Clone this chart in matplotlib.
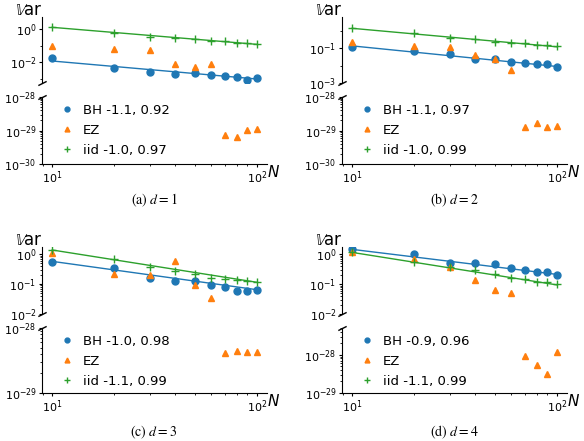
import matplotlib
matplotlib.use('Agg')
import matplotlib.pyplot as plt
from matplotlib.ticker import FixedLocator, LogLocator, NullFormatter


# ----------------------------------------------------------------------------------------
#                             DATA AREA

N        = [10, 20, 30, 40, 50, 60, 70, 80, 90, 100]
N_FIT    = [10, 100]
N_EZ_TOP = [10, 20, 30, 40, 50, 60]
N_EZ_BOT = [70, 80, 90, 100]

# (a) d = 1
bh_a      = [1.74e-2, 4.4e-3, 2.8e-3, 1.9e-3, 2.2e-3, 1.7e-3, 1.6e-3, 1.4e-3, 8.7e-4, 1.1e-3]
iid_a     = [1.38, 0.60, 0.35, 0.30, 0.25, 0.19, 0.20, 0.15, 0.145, 0.13]
ez_top_a  = [0.10, 0.063, 0.055, 7.9e-3, 5.0e-3, 7.6e-3]
ez_bot_a  = [7.4e-30, 6.3e-30, 1.07e-29, 1.12e-29]
bh_fit_a  = [1.2e-2, 1.0e-3]
iid_fit_a = [1.26, 0.12]
labels_a  = ["BH -1.1, 0.92", "EZ", "iid -1.0, 0.97"]

# (b) d = 2
bh_b      = [0.11, 0.065, 0.046, 0.023, 0.023, 0.017, 0.015, 0.012, 0.012, 8.1e-3]
iid_b     = [1.38, 0.72, 0.41, 0.32, 0.24, 0.21, 0.19, 0.155, 0.155, 0.126]
ez_top_b  = [0.24, 0.126, 0.115, 0.042, 0.023, 5.8e-3]
ez_bot_b  = [1.23e-29, 1.7e-29, 1.26e-29, 1.38e-29]
bh_fit_b  = [0.135, 8.9e-3]
iid_fit_b = [1.38, 0.12]
labels_b  = ["BH -1.1, 0.97", "EZ", "iid -1.0, 0.99"]

# (c) d = 3
bh_c      = [0.54, 0.34, 0.166, 0.123, 0.123, 0.095, 0.083, 0.060, 0.060, 0.062]
iid_c     = [1.38, 0.68, 0.36, 0.275, 0.22, 0.166, 0.148, 0.135, 0.123, 0.115]
ez_top_c  = [1.07, 0.22, 0.20, 0.60, 0.095, 0.034]
ez_bot_c  = [4.1e-29, 4.5e-29, 4.3e-29, 4.3e-29]
bh_fit_c  = [0.575, 0.065]
iid_fit_c = [1.38, 0.115]
labels_c  = ["BH -1.0, 0.98", "EZ", "iid -1.1, 0.99"]

# (d) d = 4
bh_d      = [1.48, 1.0, 0.50, 0.50, 0.47, 0.36, 0.29, 0.25, 0.26, 0.204]
iid_d     = [1.17, 0.575, 0.39, 0.29, 0.22, 0.166, 0.151, 0.123, 0.123, 0.10]
ez_top_d  = [1.17, 0.69, 0.39, 0.138, 0.065, 0.050]
ez_bot_d  = [9.5e-29, 5.5e-29, 3.2e-29, 1.15e-28]
bh_fit_d  = [1.48, 0.214]
iid_fit_d = [1.17, 0.095]
labels_d  = ["BH -0.9, 0.96", "EZ", "iid -1.1, 0.99"]

captions = [r"(a) $d = 1$", r"(b) $d = 2$", r"(c) $d = 3$", r"(d) $d = 4$"]


# ----------------------------------------------------------------------------------------
#                             PLOTTING AREA

W, H = 584, 441

C_BH  = '#1f77b4'
C_EZ  = '#ff7f0e'
C_IID = '#2ca02c'


def px_rect(x0, y0, x1, y1):
    # pixel box (from top-left) -> figure fraction
    return [x0 / W, 1 - y1 / H, (x1 - x0) / W, (y1 - y0) / H]


def break_marks(ax_top, ax_bot):
    kw = dict(marker=[(-1, -0.5), (1, 0.5)], markersize=6, linestyle='none',
              color='k', mec='k', mew=1, clip_on=False)
    ax_top.plot([0], [0], transform=ax_top.transAxes, **kw)
    ax_bot.plot([0], [1], transform=ax_bot.transAxes, **kw)


def set_log_ticks(ax, majors, minors=None):
    ax.yaxis.set_major_locator(FixedLocator(majors))
    if minors is None:
        ax.yaxis.set_minor_locator(LogLocator(base=10, subs=range(2, 10), numticks=50))
    else:
        ax.yaxis.set_minor_locator(FixedLocator(minors))
    ax.yaxis.set_minor_formatter(NullFormatter())


def plot_panel(fig, x0, y_top, y_bot, ylim_top, ylim_bot, ticks_top, ticks_bot, d, caption, cap_y):
    bh, iid, ez_top, ez_bot, bh_fit, iid_fit, labels = d

    ax_t = fig.add_axes(px_rect(x0, y_top[0], x0 + 225, y_top[1]))
    ax_b = fig.add_axes(px_rect(x0, y_bot[0], x0 + 225, y_bot[1]))

    for ax in (ax_t, ax_b):
        ax.set_xscale('log')
        ax.set_yscale('log')
        ax.set_xlim(10 ** 0.95, 10 ** 2.05)
        ax.spines['top'].set_visible(False)
        ax.spines['right'].set_visible(False)
        ax.tick_params(labelsize=8, length=2.5, pad=1.5)
        ax.tick_params(which='minor', length=1.5)
        ax.xaxis.set_minor_formatter(NullFormatter())
    ax_t.spines['bottom'].set_visible(False)
    ax_t.tick_params(axis='x', which='both', bottom=False, labelbottom=False)

    # fitted lines
    ax_t.plot(N_FIT, bh_fit, color=C_BH, lw=1)
    ax_t.plot(N_FIT, iid_fit, color=C_IID, lw=1)

    h1, = ax_t.plot(N, bh, 'o', color=C_BH, ms=5, label=labels[0])
    h2, = ax_t.plot(N_EZ_TOP, ez_top, '^', color=C_EZ, ms=5, label=labels[1])
    h3, = ax_t.plot(N, iid, '+', color=C_IID, ms=6, mew=1, label=labels[2])
    ax_b.plot(N_EZ_BOT, ez_bot, '^', color=C_EZ, ms=5)

    set_log_ticks(ax_t, *ticks_top)
    set_log_ticks(ax_b, *ticks_bot)
    ax_t.set_ylim(*ylim_top)
    ax_b.set_ylim(*ylim_bot)

    break_marks(ax_t, ax_b)

    ax_b.legend(handles=[h1, h2, h3], loc='upper left', bbox_to_anchor=(0.052, 1.0),
                frameon=False, fontsize=9.5, markerscale=0.7, labelspacing=0.55,
                borderaxespad=0.1, handlelength=1.0, handletextpad=0.7)

    ax_t.text(0, 1.03, r'$\mathbb{V}$ar', transform=ax_t.transAxes,
              ha='right', va='baseline', fontsize=12)
    ax_b.text(1, 0, r'$N$', transform=ax_b.transAxes,
              ha='left', va='top', fontsize=11)

    fig.text((x0 + 112) / W, 1 - cap_y / H, caption, ha='center', va='center',
             fontsize=10, family='STIXGeneral', math_fontfamily='stix')


# ----------------------------------------------------------------------------------------
#                                    MAIN AREA

def main():
    fig = plt.figure(figsize=(W / 100, H / 100), dpi=100)

    data_a = (bh_a, iid_a, ez_top_a, ez_bot_a, bh_fit_a, iid_fit_a, labels_a)
    data_b = (bh_b, iid_b, ez_top_b, ez_bot_b, bh_fit_b, iid_fit_b, labels_b)
    data_c = (bh_c, iid_c, ez_top_c, ez_bot_c, bh_fit_c, iid_fit_c, labels_c)
    data_d = (bh_d, iid_d, ez_top_d, ez_bot_d, bh_fit_d, iid_fit_d, labels_d)

    plot_panel(fig, 42, (17, 83), (97, 164), (10 ** -3.24, 10 ** 0.72), (1e-30, 1e-28),
               ([1e0, 1e-2], [1e-1, 1e-3]), ([1e-30, 1e-29, 1e-28],),
               data_a, captions[0], 200)
    plot_panel(fig, 342, (17, 83), (97, 164), (1e-3, 10 ** 0.79), (1e-30, 1e-28),
               ([1e-1, 1e-3], [1e0, 1e-2]), ([1e-30, 1e-29, 1e-28],),
               data_b, captions[1], 200)
    plot_panel(fig, 42, (247, 314), (328, 393), (1e-2, 10 ** 0.24), (1e-29, 1e-28),
               ([1e-2, 1e-1, 1e0],), ([1e-29, 1e-28],),
               data_c, captions[2], 432)
    plot_panel(fig, 342, (247, 314), (328, 393), (1e-2, 10 ** 0.25), (1e-29, 10 ** -27.3),
               ([1e-2, 1e-1, 1e0],), ([1e-29, 1e-28],),
               data_d, captions[3], 432)

    fig.savefig('out.png', dpi=100)


if __name__ == "__main__":
    main()
